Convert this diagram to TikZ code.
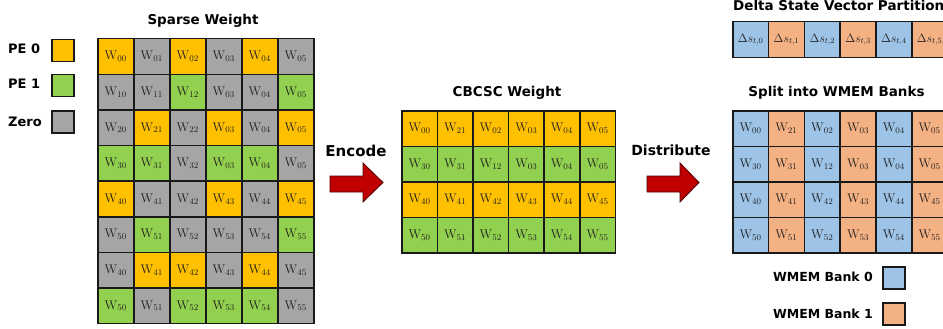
\documentclass[tikz,border=0pt]{standalone}
\usepackage{fontspec}
\newfontfamily\hd{DejaVu Sans}
\definecolor{cY}{HTML}{FFC000}
\definecolor{cG}{HTML}{92D050}
\definecolor{cZ}{HTML}{A5A5A5}
\definecolor{cB}{HTML}{9DC3E6}
\definecolor{cS}{HTML}{F4B183}
\definecolor{arr}{HTML}{C00000}
\newcommand\Wt[1]{$\mathrm{W}_{\mathrm{#1}}$}
\tikzset{
  cell/.style={draw=black!90, line width=1.5pt, minimum width=#1, minimum height=35.5pt,
    inner sep=0pt, anchor=north west, text=black!88, font=\fontsize{12.5}{12}\selectfont},
  cell/.default=36pt,
  title/.style={font=\hd\bfseries\fontsize{13.5}{14}\selectfont, inner sep=0pt, anchor=base},
  lab/.style={font=\hd\bfseries\fontsize{13}{14}\selectfont, inner sep=0pt},
  legbox/.style={draw=black!90, line width=1.5pt, minimum width=22pt, minimum height=22pt, inner sep=0pt, anchor=north west},
  blockarrow/.style={fill=arr, draw=black!60!arr, line width=0.8pt, line join=miter}
}
\begin{document}
\begin{tikzpicture}[x=1pt,y=-1pt]
\useasboundingbox (0,0) rectangle (943,329);
\clip (0,0) rectangle (943,329);

% legend left
\node[lab, anchor=base west] (pe0) at (8,53.3) {PE 0};
\node[lab, anchor=base west] (pe1) at (8,88.3) {PE 1};
\node[lab, anchor=base west] (zr) at (8,126.7) {Zero};
\node[legbox, fill=cY] (bpe0) at (51,39) {};
\node[legbox, fill=cG] (bpe1) at (51,74) {};
\node[legbox, fill=cZ] (bzr) at (51,110) {};

% sparse weight
\node[title] (tsp) at (203,25) {Sparse Weight};
\foreach \row [count=\r from 0] in {
 {cY/00,cZ/01,cY/02,cZ/03,cY/04,cZ/05},
 {cZ/10,cZ/11,cG/12,cZ/03,cZ/04,cG/05},
 {cZ/20,cY/21,cZ/22,cY/03,cZ/04,cY/05},
 {cG/30,cG/31,cZ/32,cG/03,cG/04,cZ/05},
 {cY/40,cZ/41,cZ/42,cY/43,cZ/44,cY/45},
 {cZ/50,cG/51,cZ/52,cZ/53,cZ/54,cG/55},
 {cZ/40,cY/41,cY/42,cZ/43,cY/44,cZ/45},
 {cG/50,cZ/51,cG/52,cG/53,cG/54,cZ/55}} {
  \foreach \c/\l [count=\k from 0] in \row {
    \node[cell, fill=\c, minimum height=35.6pt] (s-\r-\k) at (97+36*\k, 38+35.6*\r) {\Wt{\l}};
  }
}

% encode
\node[title, font=\hd\bfseries\fontsize{15}{16}\selectfont] (enc) at (356,156.7) {Encode};
\draw[blockarrow] (330,176) -- (363,176) -- (363,163) -- (383,182.5) -- (363,202) -- (363,192) -- (330,192) -- cycle;

% CBCSC
\node[title] (tcb) at (507,96.7) {CBCSC Weight};
\foreach \row [count=\r from 0] in {
 {cY/00,cY/21,cY/02,cY/03,cY/04,cY/05},
 {cG/30,cG/31,cG/12,cG/03,cG/04,cG/05},
 {cY/40,cY/41,cY/42,cY/43,cY/44,cY/45},
 {cG/50,cG/51,cG/52,cG/53,cG/54,cG/55}} {
  \foreach \c/\l [count=\k from 0] in \row {
    \node[cell=35.6pt, fill=\c] (c-\r-\k) at (401+35.6*\k, 110+35.5*\r) {\Wt{\l}};
  }
}

% distribute
\node[title, font=\hd\bfseries\fontsize{14}{15}\selectfont] (dst) at (671,155) {Distribute};
\draw[blockarrow] (647,176) -- (680,176) -- (680,163) -- (699,182.5) -- (680,202) -- (680,192) -- (647,192) -- cycle;

% delta state vector
\node[title, anchor=base west] (tdl) at (733,10.8) {Delta State Vector Partition};
\foreach \c [count=\k from 0] in {cB,cS,cB,cS,cB,cS} {
  \pgfmathtruncatemacro\kk{\k}
  \node[cell=35.8pt, fill=\c, minimum height=36pt, font=\fontsize{11.5}{11}\selectfont] (d-\k) at (732+35.8*\k, 21) {$\Delta s_{t,\kk}$};
}

% WMEM banks
\node[title] (tsw) at (836.5,96.7) {Split into WMEM Banks};
\foreach \row [count=\r from 0] in {
 {00,21,02,03,04,05},
 {30,31,12,03,04,05},
 {40,41,42,43,44,45},
 {50,51,52,53,54,55}} {
  \foreach \l [count=\k from 0] in \row {
    \pgfmathsetmacro\isodd{mod(\k,2)}
    \ifdim\isodd pt>0.5pt \def\cc{cS}\else\def\cc{cB}\fi
    \node[cell=35.8pt, fill=\cc] (w-\r-\k) at (732+35.8*\k, 110+35.5*\r) {\Wt{\l}};
  }
}

% legend right
\node[lab, anchor=base east, font=\hd\bfseries\fontsize{12.5}{14}\selectfont] (lb0) at (873,281.7) {WMEM Bank 0};
\node[lab, anchor=base east, font=\hd\bfseries\fontsize{12.5}{14}\selectfont] (lb1) at (873,318) {WMEM Bank 1};
\node[legbox, fill=cB] (bb0) at (882,266) {};
\node[legbox, fill=cS] (bb1) at (882,302) {};
\end{tikzpicture}
\end{document}
